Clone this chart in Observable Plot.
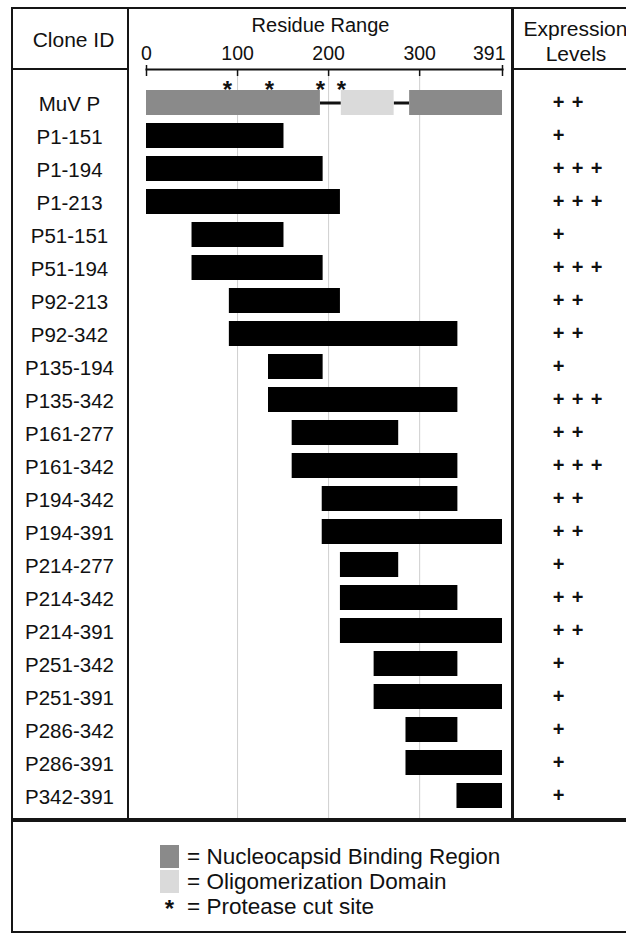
<!DOCTYPE html>
<html>
<head>
<meta charset="utf-8">
<script src="https://cdn.jsdelivr.net/npm/d3@7"></script>
<script src="https://cdn.jsdelivr.net/npm/@observablehq/plot@0.6"></script>
<style>
  body { margin: 0; background: #fff; }
  #fig { position: relative; width: 626px; height: 935px; overflow: hidden;
         font-family: "Liberation Sans", Arial, Helvetica, sans-serif; color: #111; background: #fff; }
  #chart { position: absolute; left: 0; top: 0; }
  .b { position: absolute; background: #151515; }
  #legend { position: absolute; left: 160px; top: 844px; font-size: 22.5px; }
  .lr { display: flex; align-items: center; height: 25px; white-space: nowrap; }
  .sw { width: 19px; height: 23px; margin-right: 8px; flex: none; }
  .st { width: 19px; margin-right: 8px; text-align: center; flex: none; font-size: 24px; font-weight: bold; line-height: 25px; padding-top: 4px; }
</style>
</head>
<body>
<div id="fig">
  <div id="chart"></div>
  <!-- table rules -->
  <div class="b" style="left:11px;top:7px;width:640px;height:2px"></div>
  <div class="b" style="left:11px;top:7px;width:2px;height:926px"></div>
  <div class="b" style="left:127px;top:7px;width:2px;height:813px"></div>
  <div class="b" style="left:511px;top:7px;width:3px;height:813px"></div>
  <div class="b" style="left:11px;top:68px;width:117px;height:2px"></div>
  <div class="b" style="left:512px;top:68px;width:140px;height:2px"></div>
  <div class="b" style="left:11px;top:818px;width:640px;height:4px"></div>
  <div class="b" style="left:11px;top:931px;width:640px;height:2px"></div>
  <div id="legend"></div>
</div>
<script>
// ---- data ----
const rowLabels = ["MuV P", "P1-151", "P1-194", "P1-213", "P51-151", "P51-194", "P92-213", "P92-342",
  "P135-194", "P135-342", "P161-277", "P161-342", "P194-342", "P194-391", "P214-277", "P214-342",
  "P214-391", "P251-342", "P251-391", "P286-342", "P286-391", "P342-391"];
const expressionLevels = [2, 1, 3, 3, 1, 3, 2, 2, 1, 3, 2, 3, 2, 2, 1, 2, 2, 1, 1, 1, 1, 1];

const cloneLabels = rowLabels.slice(1);
const cloneStart = [1, 1, 1, 51, 51, 92, 92, 135, 135, 161, 161, 194, 194, 214, 214, 214, 251, 251, 286, 286, 342];
const cloneEnd   = [151, 194, 213, 151, 194, 213, 342, 194, 342, 277, 342, 342, 391, 277, 342, 391, 342, 391, 342, 391, 391];

const domainType  = ["Nucleocapsid Binding Region", "Oligomerization Domain", "Nucleocapsid Binding Region"];
const domainStart = [1, 215, 290];
const domainEnd   = [191, 272, 391];
const linkerStart = [191, 272];
const linkerEnd   = [214, 289];
const cutSites = [89, 135, 191, 214];
const axisTicks = [0, 100, 200, 300, 391];

const legendItems = ["Nucleocapsid Binding Region", "Oligomerization Domain", "Protease cut site"];
const domainColor = {"Nucleocapsid Binding Region": "#8a8a8a", "Oligomerization Domain": "#dadada"};

// ---- derived tables ----
const rows = rowLabels.map((id, i) => ({id, level: expressionLevels[i]}));
const clones = cloneLabels.map((id, i) => ({id, start: cloneStart[i], end: cloneEnd[i]}));
const domains = domainType.map((type, i) => ({type, start: domainStart[i], end: domainEnd[i]}));
const linkers = linkerStart.map((s, i) => ({start: s, end: linkerEnd[i]}));

const T = {textAnchor: "middle", lineAnchor: "middle"};

const plusMarks = [1, 2, 3].map(k =>
  Plot.text(rows.filter(d => d.level >= k), {
    y: "id", text: () => "+", frameAnchor: "right", ...T,
    dx: 56 + (k - 1) * 19, fontSize: 20, fontWeight: "bold", fill: "#111"
  })
);

const chart = Plot.plot({
  width: 626,
  height: 822,
  marginTop: 69,
  marginBottom: 4,
  marginLeft: 146,
  marginRight: 124,
  style: {fontFamily: "'Liberation Sans', Arial, Helvetica, sans-serif", fontSize: "20px",
          color: "#111", background: "transparent", overflow: "visible"},
  x: {domain: [0, 391], axis: null},
  y: {domain: rowLabels, range: [85.5, 811.5], paddingInner: 0.25, paddingOuter: 0.125, axis: null},
  marks: [
    Plot.ruleX([100, 200, 300], {stroke: "#cfcfcf", strokeWidth: 1}),
    Plot.frame({anchor: "top", stroke: "#111", strokeWidth: 2}),
    Plot.axisX(axisTicks, {anchor: "top", tickSize: -6, strokeWidth: 1.5, stroke: "#111", fill: "none", label: null}),
    Plot.axisX([0, 391], {anchor: "top", tickSize: 5, strokeWidth: 1.5, stroke: "#111", fill: "none", label: null}),
    Plot.text(axisTicks.filter(v => v !== 391), {x: d => d, text: d => String(d), frameAnchor: "top", ...T, dy: -16, fontSize: 19.5, fill: "#111"}),
    Plot.text(axisTicks.filter(v => v === 391), {x: d => d, text: d => String(d), frameAnchor: "top", lineAnchor: "middle", textAnchor: "end", dx: 3, dy: -16, fontSize: 19.5, fill: "#111"}),
    Plot.text(["Residue Range"], {frameAnchor: "top", ...T, dx: -4, dy: -44, fontSize: 20, fill: "#111"}),
    Plot.text(["Clone ID"], {frameAnchor: "top-left", ...T, dx: -73, dy: -29.5, fontSize: 21, fill: "#111"}),
    Plot.text(["Expression"], {frameAnchor: "top-right", ...T, dx: 73, dy: -40.5, fontSize: 21, fill: "#111"}),
    Plot.text(["Levels"], {frameAnchor: "top-right", ...T, dx: 73.5, dy: -15.5, fontSize: 21, fill: "#111"}),
    // full-length P protein
    Plot.ruleY(linkers, {x1: "start", x2: "end", y: () => "MuV P", stroke: "#111", strokeWidth: 3}),
    Plot.barX(domains, {x1: d => d.start - 1, x2: "end", y: () => "MuV P", fill: d => domainColor[d.type]}),
    Plot.text(cutSites, {x: d => d, y: () => "MuV P", text: () => "*", ...T, dy: -13, fontSize: 24, fontWeight: "bold", fill: "#111"}),
    // clones
    Plot.barX(clones, {x1: d => d.start - 1, x2: "end", y: "id", fill: "#000"}),
    // row labels
    Plot.text(rows, {y: "id", text: "id", frameAnchor: "left", ...T, dx: -77, dy: 1, fontSize: 20.5, fill: "#111"}),
    ...plusMarks
  ]
});
document.getElementById("chart").appendChild(chart);

// ---- legend ----
const legend = document.getElementById("legend");
legendItems.forEach((name, i) => {
  const row = document.createElement("div");
  row.className = "lr";
  const key = document.createElement("div");
  if (domainColor[name]) { key.className = "sw"; key.style.background = domainColor[name]; }
  else { key.className = "st"; key.textContent = "*"; }
  const label = document.createElement("span");
  label.textContent = "= " + name;
  row.appendChild(key); row.appendChild(label);
  legend.appendChild(row);
});
</script>
</body>
</html>
